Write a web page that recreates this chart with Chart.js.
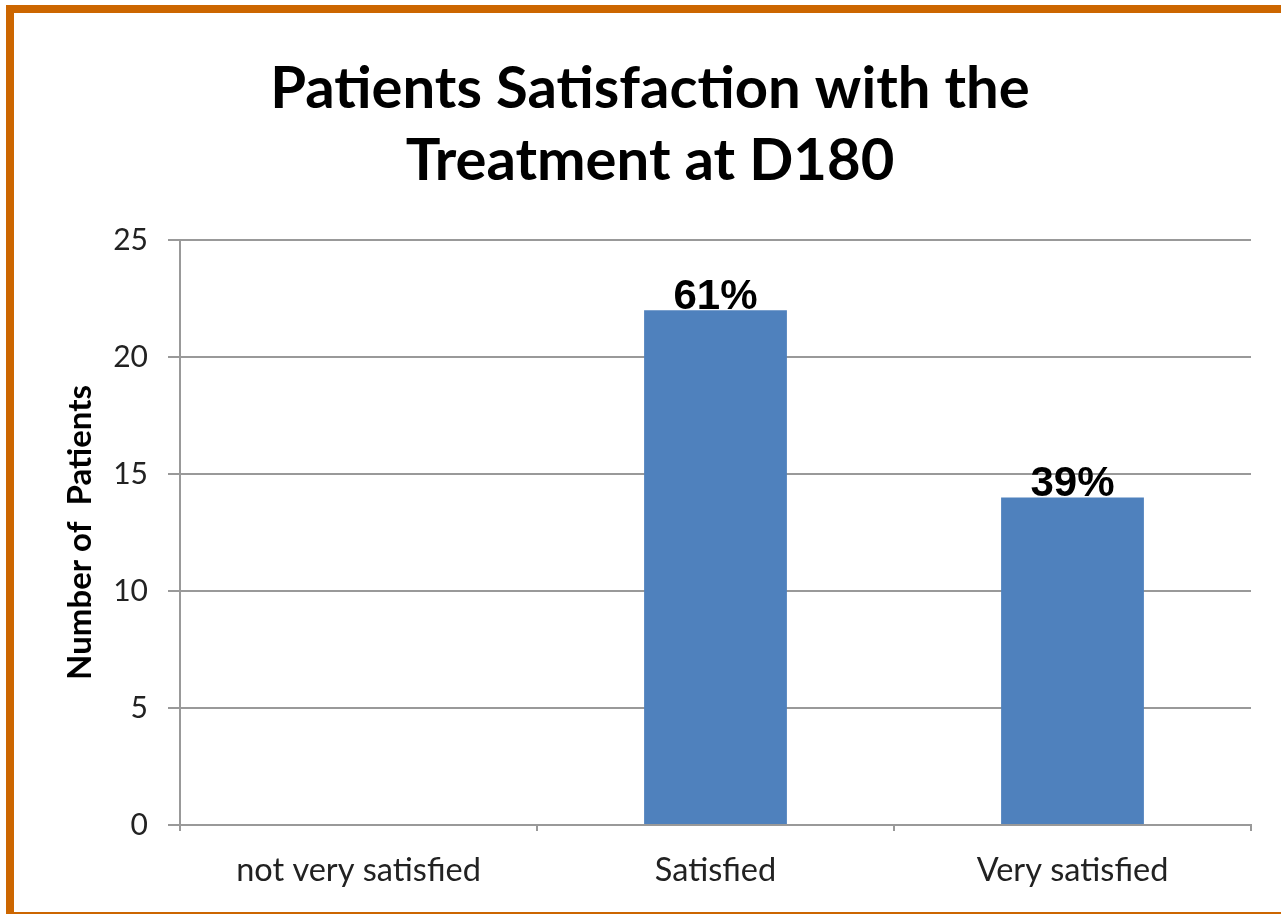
<!DOCTYPE html>
<html><head><meta charset="utf-8">
<script src="https://cdn.jsdelivr.net/npm/chart.js@4.4.1/dist/chart.umd.min.js"></script>
<style>
html,body{margin:0;padding:0;background:#fff;overflow:hidden;}
#wrap{position:relative;width:1281px;height:915px;}
#frame{position:absolute;left:6px;top:5px;width:1300px;height:899px;border-top:8px solid #CC6600;border-left:8px solid #CC6600;border-bottom:2px solid #CC6600;}
canvas{position:absolute;left:0;top:0;}
</style></head><body>
<div id="wrap"><div id="frame"></div><canvas id="c" width="1281" height="915" style="width:1281px;height:915px"></canvas></div>
<script>
const titleLines = ["Patients Satisfaction with the", "Treatment at D180"];
const categories = ["not very satisfied", "Satisfied", "Very satisfied"];
const patients = [0, 22, 14];
const percentLabels = ["", "61%", "39%"];
const yTitle = "Number of  Patients";
const yMin = 0, yMax = 25, yStep = 5;

const gridColor = '#999999';

const titleDraw = {
  id: 'titleDraw',
  afterDraw(chart) {
    const ctx = chart.ctx;
    ctx.save();
    ctx.font = 'bold 58px Lato, sans-serif';
    ctx.fillStyle = '#000';
    ctx.textAlign = 'center';
    ctx.textBaseline = 'alphabetic';
    const baselines = [108, 180];
    titleLines.forEach((t, i) => ctx.fillText(t, 650, baselines[i]));
    ctx.restore();
  }
};

const barLabels = {
  id: 'barLabels',
  afterDatasetsDraw(chart) {
    const ctx = chart.ctx;
    const meta = chart.getDatasetMeta(0);
    ctx.save();
    ctx.font = 'bold 42px "Liberation Sans", Arial, sans-serif';
    ctx.fillStyle = '#000';
    ctx.textAlign = 'center';
    ctx.textBaseline = 'alphabetic';
    meta.data.forEach((bar, i) => {
      const t = percentLabels[i];
      if (!t) return;
      ctx.fillText(t, bar.x, bar.y - 1);
    });
    ctx.restore();
  }
};

new Chart(document.getElementById('c'), {
  type: 'bar',
  data: {
    labels: categories,
    datasets: [{
      data: patients,
      backgroundColor: '#4F81BD',
      borderWidth: 0,
      barPercentage: 0.8,
      categoryPercentage: 0.5
    }]
  },
  options: {
    responsive: false,
    animation: false,
    layout: { padding: { left: 14, right: 30, top: 240, bottom: 0 } },
    plugins: {
      legend: { display: false },
      tooltip: { enabled: false },
      title: { display: false }
    },
    scales: {
      x: {
        grid: { offset: true, drawOnChartArea: false, drawTicks: true, tickLength: 6, color: gridColor, lineWidth: 2 },
        border: { display: true, color: gridColor, width: 2 },
        ticks: { font: { family: 'Lato', size: 32.5 }, color: '#222', padding: 20 },
        afterFit(s) { s.height = 90; }
      },
      y: {
        min: yMin, max: yMax,
        ticks: { stepSize: yStep, font: { family: 'Lato', size: 30 }, color: '#222', padding: 20 },
        grid: { color: gridColor, lineWidth: 2, tickLength: 12 },
        border: { display: true, color: gridColor, width: 2 },
        title: { display: true, text: yTitle, color: '#000', font: { family: 'Lato', weight: 'bold', size: 33 }, padding: { top: 47, bottom: 0 } },
        afterFit(s) { s.width = 166; }
      }
    }
  },
  plugins: [barLabels, titleDraw]
});
</script>
</body></html>
